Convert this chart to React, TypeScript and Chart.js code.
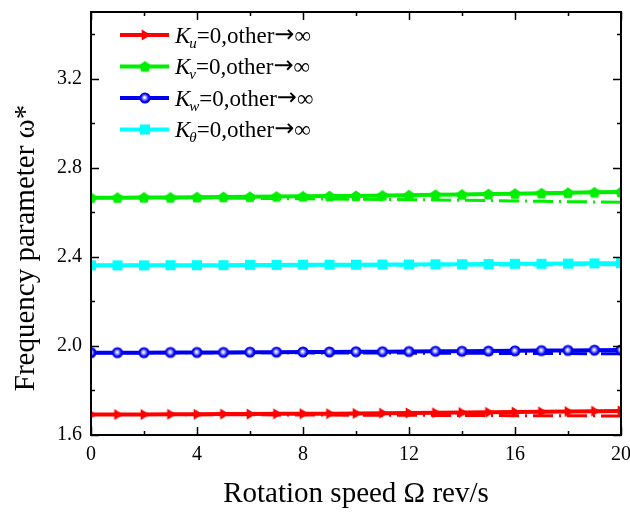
import React, { useEffect, useRef } from 'react';
import { Chart, registerables } from 'chart.js';

Chart.register(...registerables);

// ---- data ----
const speeds = [0, 1, 2, 3, 4, 5, 6, 7, 8, 9, 10, 11, 12, 13, 14, 15, 16, 17, 18, 19, 20];

const kuSolid = [1.692, 1.692, 1.692, 1.693, 1.693, 1.694, 1.694, 1.695, 1.696, 1.696, 1.697, 1.698, 1.699, 1.700, 1.701, 1.702, 1.703, 1.704, 1.705, 1.707, 1.708];
const kuDash = [1.692, 1.692, 1.692, 1.692, 1.691, 1.691, 1.691, 1.690, 1.690, 1.690, 1.689, 1.689, 1.689, 1.688, 1.688, 1.688, 1.687, 1.687, 1.686, 1.686, 1.685];

const kvSolid = [2.666, 2.666, 2.667, 2.667, 2.668, 2.669, 2.670, 2.671, 2.672, 2.673, 2.674, 2.676, 2.677, 2.679, 2.680, 2.682, 2.684, 2.686, 2.688, 2.690, 2.692];
const kvDash = [2.666, 2.666, 2.666, 2.665, 2.665, 2.664, 2.663, 2.662, 2.661, 2.660, 2.659, 2.658, 2.657, 2.656, 2.654, 2.653, 2.651, 2.650, 2.648, 2.647, 2.645];

const kwSolid = [1.970, 1.970, 1.970, 1.971, 1.971, 1.971, 1.972, 1.972, 1.973, 1.973, 1.974, 1.974, 1.975, 1.976, 1.976, 1.977, 1.978, 1.979, 1.980, 1.981, 1.982];
const kwDash = [1.970, 1.970, 1.970, 1.970, 1.970, 1.969, 1.969, 1.969, 1.969, 1.968, 1.968, 1.968, 1.968, 1.967, 1.967, 1.967, 1.966, 1.966, 1.966, 1.965, 1.965];

const ktSolid = [2.362, 2.362, 2.362, 2.363, 2.363, 2.363, 2.364, 2.364, 2.365, 2.365, 2.365, 2.366, 2.366, 2.367, 2.367, 2.368, 2.369, 2.369, 2.370, 2.371, 2.372];
const ktDash = [2.362, 2.362, 2.362, 2.362, 2.362, 2.362, 2.362, 2.363, 2.363, 2.363, 2.363, 2.363, 2.363, 2.364, 2.364, 2.364, 2.364, 2.364, 2.365, 2.365, 2.365];

const yTickLabels = ['1.6', '2.0', '2.4', '2.8', '3.2'];
const xTickLabels = ['0', '4', '8', '12', '16', '20'];
const legendSubs = ['u', 'v', 'w', 'θ'];
const legendMid = '=0,other';
const legendArrow = '→';
const legendInf = '∞';
const xTitle = 'Rotation speed Ω rev/s';
const yTitle = 'Frequency parameter ω*';

const colors = ['#ff0000', '#00ee00', '#0000ee', '#00ffff'];

const SERIF = "'Liberation Serif', 'Times New Roman', serif";

function makeMarker(kind: string, color: string): HTMLCanvasElement {
  const c = document.createElement('canvas');
  c.width = 14;
  c.height = 14;
  const ctx = c.getContext('2d')!;
  const cx = 7, cy = 7;
  ctx.fillStyle = color;
  ctx.beginPath();
  if (kind === 'tri') {
    const r = 6;
    ctx.moveTo(cx + r, cy);
    ctx.lineTo(cx - r * 0.55, cy - r * 0.9);
    ctx.lineTo(cx - r * 0.55, cy + r * 0.9);
    ctx.closePath();
    ctx.fill();
  } else if (kind === 'pent') {
    const r = 6;
    for (let i = 0; i < 5; i++) {
      const a = -Math.PI / 2 + (i * 2 * Math.PI) / 5;
      const px = cx + r * Math.cos(a);
      const py = cy + 0.5 + r * Math.sin(a);
      if (i === 0) ctx.moveTo(px, py);
      else ctx.lineTo(px, py);
    }
    ctx.closePath();
    ctx.fill();
  } else if (kind === 'sphere') {
    const g = ctx.createRadialGradient(cx - 0.5, cy - 0.5, 0.5, cx, cy, 5.5);
    g.addColorStop(0, '#ffffff');
    g.addColorStop(0.35, '#8080ff');
    g.addColorStop(0.7, color);
    g.addColorStop(1, color);
    ctx.fillStyle = g;
    ctx.arc(cx, cy, 5.5, 0, Math.PI * 2);
    ctx.fill();
  } else {
    ctx.rect(cx - 5, cy - 5, 10, 10);
    ctx.fill();
  }
  return c;
}

function isMultiple(v: number, step: number) {
  return Math.abs(v / step - Math.round(v / step)) < 1e-6;
}

export default function App() {
  const ref = useRef<HTMLCanvasElement | null>(null);

  useEffect(() => {
    if (!ref.current) return;
    const markers = [
      makeMarker('tri', colors[0]),
      makeMarker('pent', colors[1]),
      makeMarker('sphere', colors[2]),
      makeMarker('sq', colors[3]),
    ];
    const solids = [kuSolid, kvSolid, kwSolid, ktSolid];
    const dashes = [kuDash, kvDash, kwDash, ktDash];

    const datasets: any[] = [];
    solids.forEach((arr, i) => {
      datasets.push({
        data: arr.map((v, j) => ({ x: speeds[j], y: v })),
        borderColor: colors[i],
        backgroundColor: colors[i],
        borderWidth: 4,
        pointStyle: markers[i],
        pointRadius: 5,
        order: 0,
      });
    });
    dashes.forEach((arr, i) => {
      datasets.push({
        data: arr.map((v, j) => ({ x: speeds[j], y: v })),
        borderColor: colors[i],
        borderWidth: 3,
        borderDash: [20, 6, 2, 6],
        pointRadius: 0,
        order: 1,
      });
    });

    const framePlugin = {
      id: 'frame',
      afterDraw(chart: any) {
        const { ctx, chartArea: a, scales } = chart;
        ctx.save();
        ctx.strokeStyle = '#000';
        ctx.lineWidth = 1.5;
        // ticks
        scales.x.ticks.forEach((t: any) => {
          const px = Math.round(scales.x.getPixelForValue(t.value)) + 0.5;
          const len = isMultiple(t.value, 4) ? 8 : 4;
          ctx.beginPath();
          ctx.moveTo(px, a.bottom);
          ctx.lineTo(px, a.bottom - len);
          ctx.moveTo(px, a.top);
          ctx.lineTo(px, a.top + len);
          ctx.stroke();
        });
        scales.y.ticks.forEach((t: any) => {
          const py = Math.round(scales.y.getPixelForValue(t.value)) + 0.5;
          const len = isMultiple(t.value, 0.4) ? 8 : 4;
          ctx.beginPath();
          ctx.moveTo(a.left, py);
          ctx.lineTo(a.left + len, py);
          ctx.moveTo(a.right, py);
          ctx.lineTo(a.right - len, py);
          ctx.stroke();
        });
        ctx.lineWidth = 2;
        ctx.strokeRect(a.left, a.top, a.right - a.left, a.bottom - a.top);

        // y title
        ctx.fillStyle = '#000';
        ctx.save();
        ctx.translate(26, 248);
        ctx.rotate(-Math.PI / 2);
        ctx.font = `29px ${SERIF}`;
        ctx.textAlign = 'center';
        ctx.textBaseline = 'middle';
        ctx.fillText(yTitle, 0, 0);
        ctx.restore();

        // legend
        const rowY = [35, 66.5, 98, 129.5];
        rowY.forEach((y, i) => {
          ctx.strokeStyle = colors[i];
          ctx.lineWidth = 4;
          ctx.beginPath();
          ctx.moveTo(120, y);
          ctx.lineTo(169, y);
          ctx.stroke();
          ctx.drawImage(markers[i], 145 - 7, y - 7);
          ctx.fillStyle = '#000';
          ctx.textBaseline = 'alphabetic';
          ctx.textAlign = 'left';
          let x = 175;
          const base = y + 7.5;
          ctx.font = `italic 23px ${SERIF}`;
          ctx.fillText('K', x, base);
          x += ctx.measureText('K').width;
          ctx.font = `italic 15px ${SERIF}`;
          ctx.fillText(legendSubs[i], x - 1, base + 5);
          x += ctx.measureText(legendSubs[i]).width - 1;
          ctx.font = `23px ${SERIF}`;
          ctx.fillText(legendMid, x, base);
          x += ctx.measureText(legendMid).width;
          ctx.font = `24px 'DejaVu Sans', sans-serif`;
          ctx.fillText(legendArrow, x, base - 1);
          x += ctx.measureText(legendArrow).width;
          ctx.font = `23px ${SERIF}`;
          ctx.fillText(legendInf, x, base);
        });
        ctx.restore();
      },
    };

    const chart = new Chart(ref.current, {
      type: 'line',
      data: { datasets },
      options: {
        animation: false,
        responsive: false,
        maintainAspectRatio: false,
        layout: { padding: { left: 0, right: 9, top: 12, bottom: 0 } },
        plugins: { legend: { display: false }, tooltip: { enabled: false } },
        scales: {
          x: {
            type: 'linear',
            min: 0,
            max: 20,
            grid: { display: false, drawTicks: false },
            border: { display: false },
            ticks: {
              stepSize: 2,
              includeBounds: false,
              autoSkip: false,
              maxRotation: 0,
              padding: 8,
              color: '#000',
              font: { family: SERIF, size: 20 },
              callback: (v: any) => {
                const n = Number(v);
                if (!isMultiple(n, 4)) return '';
                const idx = Math.round(n / 4);
                return xTickLabels[idx] ?? '';
              },
            },
            title: {
              display: true,
              text: xTitle,
              color: '#000',
              font: { family: SERIF, size: 29 },
              padding: { top: 0, bottom: 2 },
            },
            afterFit: (s: any) => {
              s.height = 79;
              s.paddingLeft = 0;
              s.paddingRight = 0;
            },
          },
          y: {
            type: 'linear',
            min: 1.6,
            max: 3.5,
            grid: { display: false, drawTicks: false },
            border: { display: false },
            ticks: {
              stepSize: 0.2,
              includeBounds: false,
              autoSkip: false,
              padding: 9,
              color: '#000',
              font: { family: SERIF, size: 20 },
              callback: (v: any) => {
                const n = Number(v);
                if (!isMultiple(n, 0.4)) return '';
                const idx = Math.round((n - 1.6) / 0.4);
                return yTickLabels[idx] ?? '';
              },
            },
            title: { display: false },
            afterFit: (s: any) => {
              s.width = 91;
              s.paddingTop = 0;
              s.paddingBottom = 0;
            },
          },
        },
      },
      plugins: [framePlugin],
    });
    return () => chart.destroy();
  }, []);

  return (
    <div style={{ position: 'absolute', left: 0, top: 0, width: 630, height: 514, background: '#fff' }}>
      <canvas ref={ref} width={630} height={514} style={{ display: 'block' }} />
    </div>
  );
}
